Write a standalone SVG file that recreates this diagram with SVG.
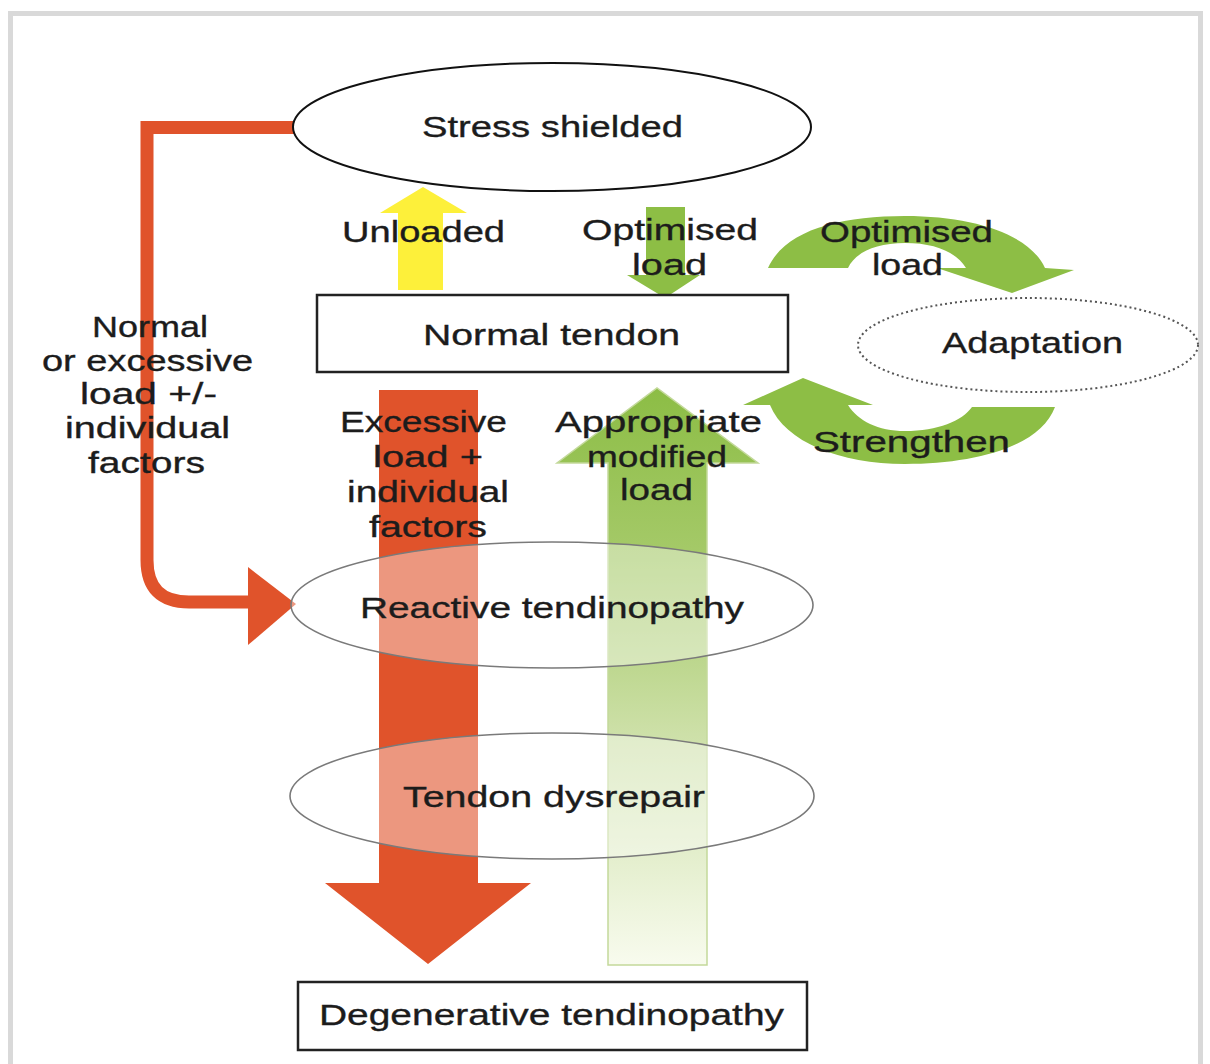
<svg xmlns="http://www.w3.org/2000/svg" width="1210" height="1064" viewBox="0 0 1210 1064">
<defs>
<style>
text{font-family:"Liberation Sans",Arial,sans-serif;font-size:30px;fill:#1c1c1c;stroke:#1c1c1c;stroke-width:0.35;text-anchor:middle}
.box{fill:#fff;stroke:#222;stroke-width:2.5}
.ov{fill:#fff;fill-opacity:0.4;stroke:#7a7a7a;stroke-width:1.6}
.red{fill:#e0532b}
.grn{fill:#8dbe45}
</style>
<linearGradient id="gg" x1="0" y1="388" x2="0" y2="965" gradientUnits="userSpaceOnUse">
<stop offset="0" stop-color="#8cbd45"/>
<stop offset="0.3" stop-color="#a6ca6a"/>
<stop offset="0.6" stop-color="#cde0a8"/>
<stop offset="1" stop-color="#f8fbee"/>
</linearGradient>
</defs>
<rect width="1210" height="1064" fill="#fff"/>
<rect x="10.5" y="13.5" width="1190" height="1100" fill="none" stroke="#d9d9d9" stroke-width="5"/>

<g id="connectors">
<path d="M296 127.5 H147 V560 Q147 602 189 602 H252" fill="none" stroke="#e0532b" stroke-width="13"/>
<polygon class="red" points="248,567 248,645 296,604"/>
<polygon fill="#fdf03a" points="398,290 398,213 380,213 423,187 467,213 443,213 443,290"/>
<polygon class="grn" points="646,207 685,207 685,275 700,275 665,298 627,275 646,275"/>
<polygon class="red" points="379,390 478,390 478,883 531,883 428,964 325,883 379,883"/>
<polygon fill="url(#gg)" stroke="#c3d99a" stroke-width="1.5" points="608,965 608,463 557,463 657,388 758,463 707,463 707,965"/>
<path class="grn" d="M768 268 C785 230 840 216 905 216 C975 216 1030 235 1045 268 L1074 270 L1012 293 L937 268 L966 268 C956 252 935 243 905 243 C875 243 855 253 848 268 Z"/>
<path class="grn" d="M743 405 L803 378 L873 405 L848 405 C858 421 878 431 905 431 C938 431 962 421 972 407 L1055 407 C1040 447 975 464 905 464 C840 464 785 442 770 405 Z"/>
</g>

<g id="stress">
<ellipse cx="552" cy="127" rx="259" ry="64" fill="#fff" stroke="#111" stroke-width="2"/>
<text x="552.5" y="137" textLength="261" lengthAdjust="spacingAndGlyphs">Stress shielded</text>
</g>

<g id="normal">
<rect class="box" x="317" y="295" width="471" height="77"/>
<text x="551.5" y="345" textLength="257" lengthAdjust="spacingAndGlyphs">Normal tendon</text>
</g>

<g id="adaptation">
<ellipse cx="1028" cy="345" rx="170" ry="47" fill="#fff" stroke="#555" stroke-width="2" stroke-dasharray="2 3"/>
<text x="1032.5" y="353" textLength="181" lengthAdjust="spacingAndGlyphs">Adaptation</text>
</g>

<g id="reactive">
<ellipse class="ov" cx="552" cy="605" rx="261" ry="63"/>
<text x="552" y="618" textLength="384" lengthAdjust="spacingAndGlyphs">Reactive tendinopathy</text>
</g>

<g id="dysrepair">
<ellipse class="ov" cx="552" cy="796" rx="262" ry="63"/>
<text x="554" y="807" textLength="302" lengthAdjust="spacingAndGlyphs">Tendon dysrepair</text>
</g>

<g id="degenerative">
<rect class="box" x="298" y="982" width="509" height="68"/>
<text x="551.5" y="1025" textLength="465" lengthAdjust="spacingAndGlyphs">Degenerative tendinopathy</text>
</g>

<g id="labels">
<text x="423.5" y="242" textLength="163" lengthAdjust="spacingAndGlyphs">Unloaded</text>
<text x="670" y="240" textLength="176" lengthAdjust="spacingAndGlyphs">Optimised</text>
<text x="669.5" y="275" textLength="75" lengthAdjust="spacingAndGlyphs">load</text>
<text x="906.5" y="242" textLength="173" lengthAdjust="spacingAndGlyphs">Optimised</text>
<text x="907.5" y="275" textLength="71" lengthAdjust="spacingAndGlyphs">load</text>
<text x="150" y="337" textLength="116" lengthAdjust="spacingAndGlyphs">Normal</text>
<text x="147.5" y="371" textLength="211" lengthAdjust="spacingAndGlyphs">or excessive</text>
<text x="148.5" y="404" textLength="137" lengthAdjust="spacingAndGlyphs">load +/-</text>
<text x="147.5" y="438" textLength="165" lengthAdjust="spacingAndGlyphs">individual</text>
<text x="146.5" y="473" textLength="117" lengthAdjust="spacingAndGlyphs">factors</text>
<text x="423.5" y="432" textLength="167" lengthAdjust="spacingAndGlyphs">Excessive</text>
<text x="428" y="467" textLength="110" lengthAdjust="spacingAndGlyphs">load +</text>
<text x="428" y="502" textLength="162" lengthAdjust="spacingAndGlyphs">individual</text>
<text x="428" y="537" textLength="118" lengthAdjust="spacingAndGlyphs">factors</text>
<text x="658.5" y="432" textLength="207" lengthAdjust="spacingAndGlyphs">Appropriate</text>
<text x="657" y="467" textLength="140" lengthAdjust="spacingAndGlyphs">modified</text>
<text x="656.5" y="500" textLength="73" lengthAdjust="spacingAndGlyphs">load</text>
<text x="911.5" y="452" textLength="197" lengthAdjust="spacingAndGlyphs">Strengthen</text>
</g>
</svg>
